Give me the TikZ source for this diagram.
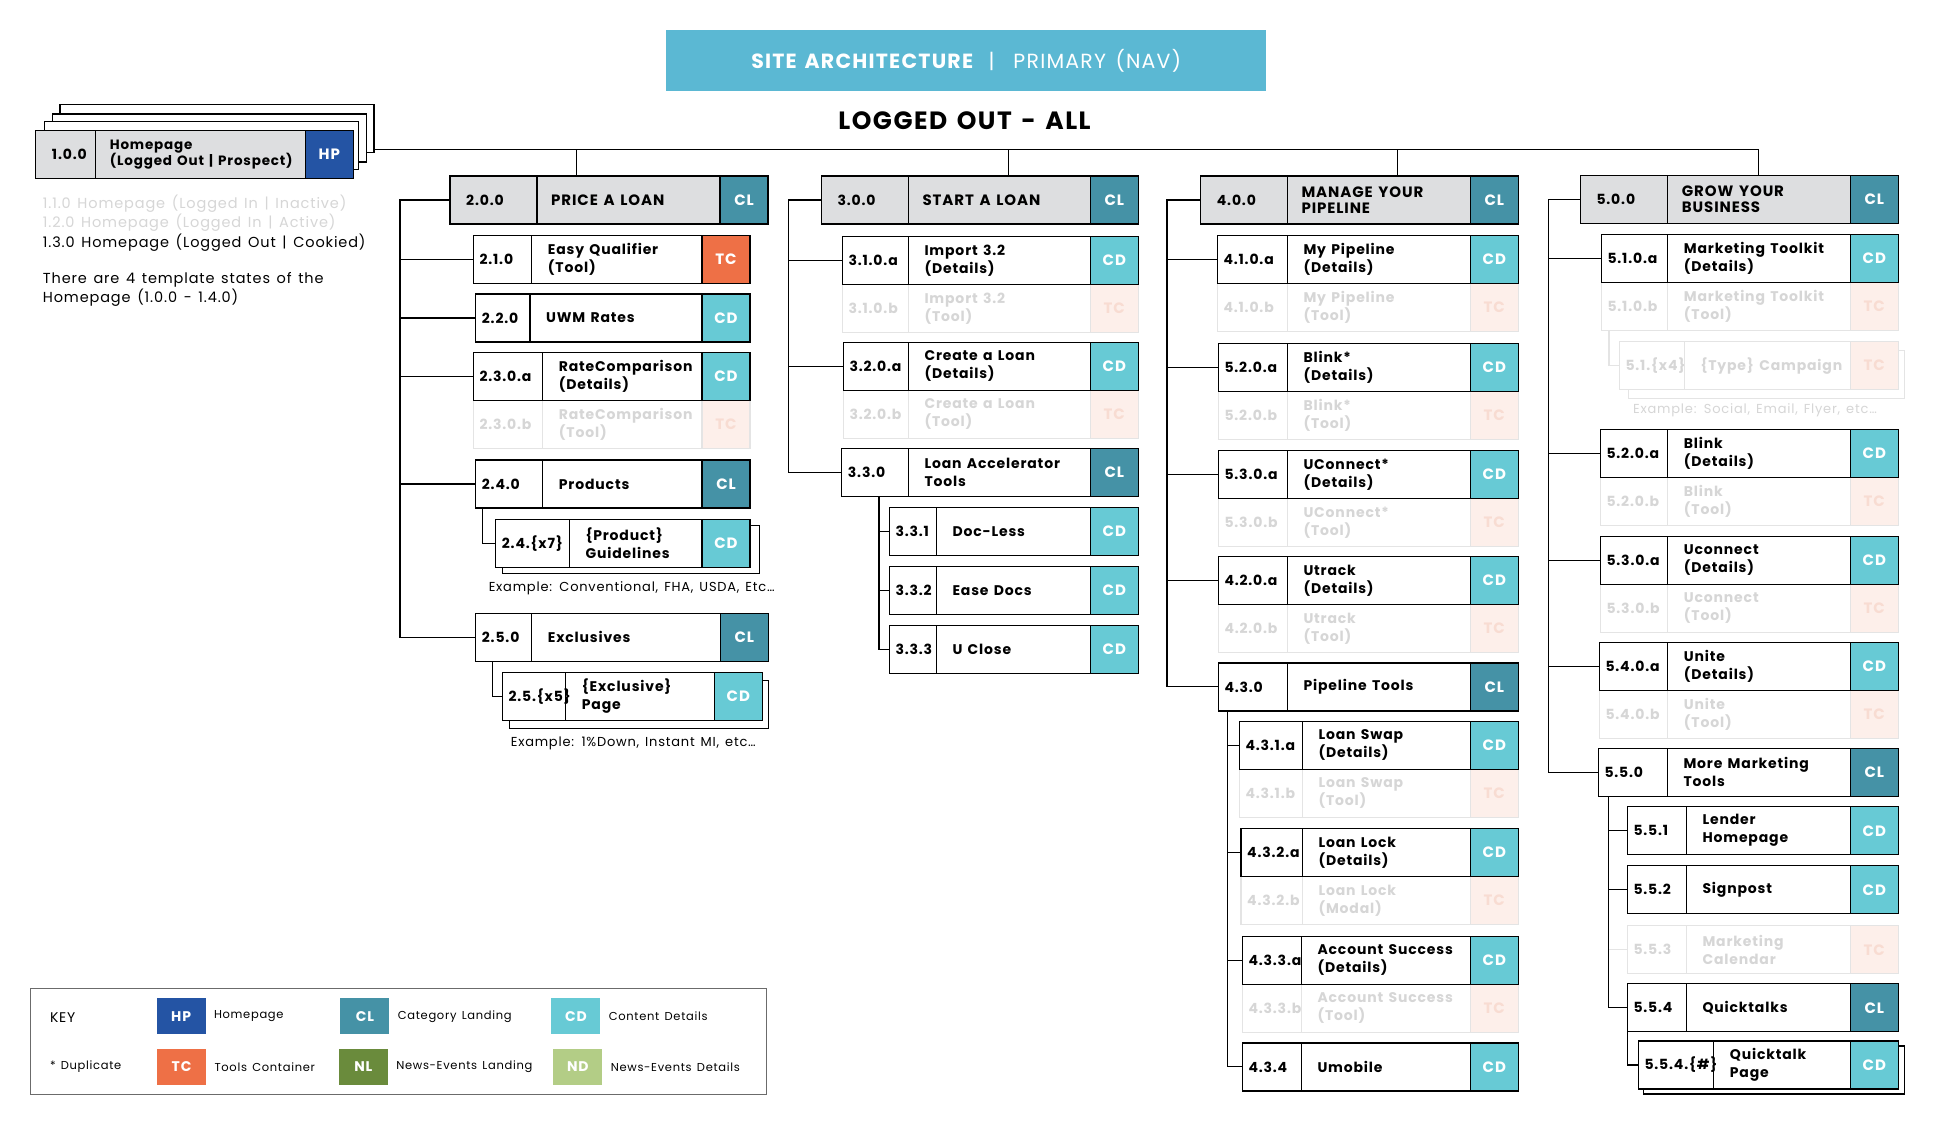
\documentclass[tikz,border=0pt]{standalone}
\usepackage{fontspec}
\setmainfont{Poppins}[LetterSpace=6, WordSpace=1.4]
\usepackage{tikz}
\usetikzlibrary{positioning, calc}

\definecolor{hpblue}{HTML}{2454A4}
\definecolor{clteal}{HTML}{4592A6}
\definecolor{cdcyan}{HTML}{67CAD5}
\definecolor{tcorange}{HTML}{EE7046}
\definecolor{nlgreen}{HTML}{6A8B3C}
\definecolor{ndgreen}{HTML}{B3CD86}
\definecolor{headgray}{HTML}{DDDEE0}
\definecolor{bannerblue}{HTML}{5BB8D3}
\definecolor{ghostline}{HTML}{E4E4E4}
\definecolor{ghosttext}{HTML}{D6D6D6}
\definecolor{ghostfill}{HTML}{FDEFEA}
\definecolor{ghosttc}{HTML}{F8DCD2}
\definecolor{keygray}{HTML}{6B6B6B}

\tikzset{
  pbox/.style={draw=black, line width=1.3pt, fill=white, minimum height=48pt,
               inner sep=0pt, outer sep=0pt},
  hbox/.style={pbox, fill=headgray},
  gbox/.style={pbox, draw=ghostline},
  badge/.style={draw=black, line width=1.3pt, minimum width=48pt, minimum height=48pt,
                inner sep=0pt, outer sep=0pt, text=white,
                font=\fontsize{15}{18}\selectfont\bfseries},
  HP/.style={fill=hpblue}, CL/.style={fill=clteal},
  CD/.style={fill=cdcyan}, TC/.style={fill=tcorange},
  idtext/.style={inner sep=0pt, font=\fontsize{14}{17}\selectfont\bfseries},
  nametext/.style={inner sep=0pt, align=left, font=\fontsize{14}{18}\selectfont\bfseries},
  headtext/.style={inner sep=0pt, align=left, font=\fontsize{15}{16}\selectfont\bfseries},
  n100 text/.style={font=\fontsize{13.5}{16.7}\selectfont\bfseries},
  link/.style={line width=1.1pt, draw=black},
  ghostlink/.style={line width=1.1pt, draw=ghostline},
  note/.style={inner sep=0pt, anchor=west, align=left, font=\fontsize{14.5}{19.3}\selectfont},
  example/.style={inner sep=0pt, font=\fontsize{13}{15}\selectfont},
  keytext/.style={inner sep=0pt, anchor=west, font=\fontsize{11.5}{14}\selectfont},
  keybox/.style={minimum width=49pt, minimum height=36pt, inner sep=0pt, text=white,
                 font=\fontsize{14}{16}\selectfont\bfseries},
}

% box: name, x, y, width, id width, badge, id, label
\newcommand{\pagebox}[8]{%
  \node[pbox, minimum width=#4pt, anchor=north west] (#1) at (#2,#3) {};
  \node[badge, #6, anchor=north east] (#1-tag) at (#1.north east) {#6};
  \draw[line width=1.3pt] ([xshift=#5pt]#1.north west) -- ([xshift=#5pt]#1.south west);
  \node[idtext, anchor=west] (#1-id) at ([xshift=6pt]#1.west) {#7};
  \node[nametext, anchor=west] (#1-name) at ([xshift=#5pt+16pt]#1.west) {#8};
}
\newcommand{\headbox}[8]{%
  \node[hbox, minimum width=#4pt, anchor=north west] (#1) at (#2,#3) {};
  \node[badge, #6, anchor=north east] (#1-tag) at (#1.north east) {#6};
  \draw[line width=1.3pt] ([xshift=#5pt]#1.north west) -- ([xshift=#5pt]#1.south west);
  \node[idtext, anchor=west] (#1-id) at ([xshift=16pt]#1.west) {#7};
  \node[headtext, anchor=west, #1 text/.try] (#1-name) at ([xshift=#5pt+14pt]#1.west) {#8};
}
% faded tool state: name, x, y, width, id width, id, label
\newcommand{\ghostbox}[7]{%
  \node[gbox, minimum width=#4pt, anchor=north west] (#1) at (#2,#3) {};
  \node[badge, draw=ghostline, fill=ghostfill, text=ghosttc, anchor=north east] (#1-tag) at (#1.north east) {TC};
  \draw[line width=1.3pt, ghostline] ([xshift=#5pt]#1.north west) -- ([xshift=#5pt]#1.south west);
  \node[idtext, anchor=west, text=ghosttext] (#1-id) at ([xshift=6pt]#1.west) {#6};
  \node[nametext, anchor=west, text=ghosttext] (#1-name) at ([xshift=#5pt+16pt]#1.west) {#7};
}

\begin{document}
\begin{tikzpicture}[x=1pt, y=-1pt]
  \useasboundingbox (0,0) rectangle (1944,1125);
  \fill[white] (0,0) rectangle (1944,1125);

  % Title
  \node[fill=bannerblue, minimum width=600pt, minimum height=60.7pt, anchor=north west,
        inner sep=0pt, text=white, font=\fontsize{20.5}{24}\selectfont] (banner) at (666,30)
    {\bfseries SITE ARCHITECTURE\ \ \mdseries|\ \ PRIMARY (NAV)};
  \node[font=\fontsize{25}{28}\selectfont\bfseries] (title) at (964.5,121) {LOGGED OUT - ALL};

  % Homepage
  \foreach \i/\x/\y in {3/60/104.3, 2/52.3/114, 1/44.3/121.7}{
    \node[pbox, minimum width=314pt, anchor=north west] (hpstack\i) at (\x,\y) {};
  }
  \headbox{n100}{35.7}{130.7}{317.6}{60}{HP}{1.0.0}{Homepage\\(Logged Out | Prospect)}
  \node[note, text=ghosttext] (note110) at (42.7,204) {1.1.0 Homepage (Logged In | Inactive)};
  \node[note, text=ghosttext] (note120) at (42.7,222.7) {1.2.0 Homepage (Logged In | Active)};
  \node[note] (note130) at (42.7,242.3) {1.3.0 Homepage (Logged Out | Cookied)};
  \node[note] (note140) at (42.7,289.7) {There are 4 template states of the\\Homepage (1.0.0 - 1.4.0)};

  % Price a loan
  \headbox{n200}{450}{176}{318}{87}{CL}{2.0.0}{PRICE A LOAN}
  \pagebox{n210}{473.3}{235.3}{276.7}{58.4}{TC}{2.1.0}{Easy Qualifier\\(Tool)}
  \pagebox{n220}{475.7}{294}{274.3}{54.3}{CD}{2.2.0}{UWM Rates}
  \ghostbox{n230b}{473.3}{400.7}{276.7}{69.4}{2.3.0.b}{RateComparison\\(Tool)}
  \pagebox{n230a}{473.3}{352.7}{276.7}{69.4}{CD}{2.3.0.a}{RateComparison\\(Details)}
  \pagebox{n240}{475.7}{460}{274.3}{67}{CL}{2.4.0}{Products}
  \node[pbox, minimum width=256.6pt, anchor=north west] (n24x-back) at (502.7,525.3) {};
  \pagebox{n24x}{495.7}{519.3}{254.3}{73.6}{CD}{2.4.\{x7\}}{\{Product\}\\Guidelines}
  \node[example] (ex24) at (631.7,588.3) {Example: Conventional, FHA, USDA, Etc\dots};
  \pagebox{n250}{475.7}{613.3}{292.6}{56}{CL}{2.5.0}{Exclusives}
  \node[pbox, minimum width=259pt, anchor=north west] (n25x-back) at (509.3,680.3) {};
  \pagebox{n25x}{502.3}{672.3}{260}{63.4}{CD}{2.5.\{x5\}}{\{Exclusive\}\\Page}
  \node[example] (ex25) at (633.3,743.3) {Example: 1\%Down, Instant MI, etc\dots};

  % Start a loan
  \headbox{n300}{821.3}{176}{317}{87}{CL}{3.0.0}{START A LOAN}
  \ghostbox{n310b}{842.3}{284.7}{296}{66}{3.1.0.b}{Import 3.2\\(Tool)}
  \pagebox{n310a}{842.3}{236.7}{296}{66}{CD}{3.1.0.a}{Import 3.2\\(Details)}
  \ghostbox{n320b}{843.3}{390.3}{295}{65}{3.2.0.b}{Create a Loan\\(Tool)}
  \pagebox{n320a}{843.3}{342.3}{295}{65}{CD}{3.2.0.a}{Create a Loan\\(Details)}
  \pagebox{n330}{841.7}{448.3}{296.6}{66.6}{CL}{3.3.0}{Loan Accelerator\\Tools}
  \pagebox{n331}{889.3}{507.7}{249}{47}{CD}{3.3.1}{Doc-Less}
  \pagebox{n332}{889.3}{566.7}{249}{47}{CD}{3.3.2}{Ease Docs}
  \pagebox{n333}{889.3}{625.7}{249}{47}{CD}{3.3.3}{U Close}

  % Manage your pipeline
  \headbox{n400}{1200.7}{176}{317.6}{86.6}{CL}{4.0.0}{MANAGE YOUR\\PIPELINE}
  \ghostbox{n410b}{1217.3}{283.7}{301}{70}{4.1.0.b}{My Pipeline\\(Tool)}
  \pagebox{n410a}{1217.3}{235.7}{301}{70}{CD}{4.1.0.a}{My Pipeline\\(Details)}
  \ghostbox{n4520b}{1218.3}{391.3}{300}{69}{5.2.0.b}{Blink*\\(Tool)}
  \pagebox{n4520a}{1218.3}{343.3}{300}{69}{CD}{5.2.0.a}{Blink*\\(Details)}
  \ghostbox{n4530b}{1218.3}{498.3}{300}{69}{5.3.0.b}{UConnect*\\(Tool)}
  \pagebox{n4530a}{1218.3}{450.3}{300}{69}{CD}{5.3.0.a}{UConnect*\\(Details)}
  \ghostbox{n420b}{1218.3}{604.4}{300}{69}{4.2.0.b}{Utrack\\(Tool)}
  \pagebox{n420a}{1218.3}{556.4}{300}{69}{CD}{4.2.0.a}{Utrack\\(Details)}
  \pagebox{n430}{1218.3}{662.9}{300}{69}{CL}{4.3.0}{Pipeline Tools}
  \ghostbox{n431b}{1239.3}{769.4}{279}{63}{4.3.1.b}{Loan Swap\\(Tool)}
  \pagebox{n431a}{1239.3}{721.4}{279}{63}{CD}{4.3.1.a}{Loan Swap\\(Details)}
  \ghostbox{n432b}{1241}{876.6}{277.3}{61.3}{4.3.2.b}{Loan Lock\\(Modal)}
  \pagebox{n432a}{1241}{828.6}{277.3}{61.3}{CD}{4.3.2.a}{Loan Lock\\(Details)}
  \ghostbox{n433b}{1242.3}{984.4}{276}{59}{4.3.3.b}{Account Success\\(Tool)}
  \pagebox{n433a}{1242.3}{936.4}{276}{59}{CD}{4.3.3.a}{Account Success\\(Details)}
  \pagebox{n434}{1242.3}{1042.9}{276}{59}{CD}{4.3.4}{Umobile}

  % Grow your business
  \headbox{n500}{1580.3}{175.7}{318}{87.4}{CL}{5.0.0}{GROW YOUR\\BUSINESS}
  \ghostbox{n510b}{1601.3}{282.3}{297}{66.4}{5.1.0.b}{Marketing Toolkit\\(Tool)}
  \pagebox{n510a}{1601.3}{234.3}{297}{66.4}{CD}{5.1.0.a}{Marketing Toolkit\\(Details)}
  \node[gbox, minimum width=276pt, anchor=north west] (n51x-back) at (1628.3,350.7) {};
  \ghostbox{n51x}{1619.3}{341.7}{279}{65}{5.1.\{x4\}}{\{Type\} Campaign}
  \node[example, text=ghosttext] (ex51) at (1755,410.7) {Example: Social, Email, Flyer, etc\dots};
  \ghostbox{n520b}{1600.3}{477.3}{298}{67.4}{5.2.0.b}{Blink\\(Tool)}
  \pagebox{n520a}{1600.3}{429.3}{298}{67.4}{CD}{5.2.0.a}{Blink\\(Details)}
  \ghostbox{n530b}{1600.3}{584.3}{298}{67.4}{5.3.0.b}{Uconnect\\(Tool)}
  \pagebox{n530a}{1600.3}{536.3}{298}{67.4}{CD}{5.3.0.a}{Uconnect\\(Details)}
  \ghostbox{n540b}{1599.3}{690.3}{299}{68.4}{5.4.0.b}{Unite\\(Tool)}
  \pagebox{n540a}{1599.3}{642.3}{299}{68.4}{CD}{5.4.0.a}{Unite\\(Details)}
  \pagebox{n550}{1598.3}{748.3}{300}{69}{CL}{5.5.0}{More Marketing\\Tools}
  \pagebox{n551}{1627.3}{806.7}{271}{59}{CD}{5.5.1}{Lender\\Homepage}
  \pagebox{n552}{1627.3}{865.7}{271}{59}{CD}{5.5.2}{Signpost}
  \ghostbox{n553}{1627.3}{925.7}{271}{59}{5.5.3}{Marketing\\Calendar}
  \pagebox{n554}{1627.3}{983.7}{271}{59}{CL}{5.5.4}{Quicktalks}
  \node[pbox, minimum width=261pt, anchor=north west] (n554x-back) at (1643.3,1046) {};
  \pagebox{n554x}{1638.3}{1041}{260}{75.4}{CD}{5.5.4.\{\#\}}{Quicktalk\\Page}

  % Bus and drops
  \coordinate (bus) at (1758.3,149.5);
  \coordinate (drop2) at (576.7,149.5);
  \coordinate (drop3) at (1008.3,149.5);
  \coordinate (drop4) at (1397.7,149.5);
  \draw[link] (hpstack3.east |- bus) -- (bus) -- (n500.north -| bus);
  \draw[link] (drop2) -- (n200.north -| drop2);
  \draw[link] (drop3) -- (n300.north -| drop3);
  \draw[link] (drop4) -- (n400.north -| drop4);

  % Trunks
  \coordinate (trunk2) at (400,0);
  \coordinate (trunk3) at (788.3,0);
  \coordinate (trunk4) at (1167,0);
  \coordinate (trunk5) at (1548.3,0);
  \draw[link] (n200.west) -| (trunk2 |- n250.west) -- (n250.west);
  \foreach \n in {n210,n220,n230a,n240}
    \draw[link] (trunk2 |- \n.west) -- (\n.west);
  \draw[link] (n300.west) -| (trunk3 |- n330.west) -- (n330.west);
  \foreach \n in {n310a,n320a}
    \draw[link] (trunk3 |- \n.west) -- (\n.west);
  \draw[link] (n400.west) -| (trunk4 |- n430.west) -- (n430.west);
  \foreach \n in {n410a,n4520a,n4530a,n420a}
    \draw[link] (trunk4 |- \n.west) -- (\n.west);
  \draw[link] (n500.west) -| (trunk5 |- n550.west) -- (n550.west);
  \foreach \n in {n510a,n520a,n530a,n540a}
    \draw[link] (trunk5 |- \n.west) -- (\n.west);

  % Sub branches
  \draw[link] ([xshift=6.6pt]n240.south west) |- (n24x.west);
  \draw[link] ([xshift=16.6pt]n250.south west) |- (n25x.west);
  \coordinate (sub33) at ([xshift=37.3pt]n330.south west);
  \draw[link] (sub33) |- (n333.west);
  \foreach \n in {n331,n332}
    \draw[link] (sub33 |- \n.west) -- (\n.west);
  \coordinate (sub43) at ([xshift=9pt]n430.south west);
  \draw[link] (sub43) |- (n434.west);
  \foreach \n in {n431a,n432a,n433a}
    \draw[link] (sub43 |- \n.west) -- (\n.west);
  \draw[ghostlink] ([xshift=7.7pt]n510b.south west) |- (n51x.west);
  \coordinate (sub55) at ([xshift=10pt]n550.south west);
  \draw[ghostlink] (sub55 |- n553.west) -- (n553.west);
  \draw[link] (sub55) |- (n554.west);
  \foreach \n in {n551,n552}
    \draw[link] (sub55 |- \n.west) -- (\n.west);
  \draw[link] (n554.south west) |- (n554x.west);

  % Key
  \node[draw=keygray, line width=1pt, minimum width=736.3pt, minimum height=106pt,
        anchor=north west, inner sep=0pt] (keyframe) at (29.9,988.3) {};
  \node[keytext, font=\fontsize{14}{16}\selectfont] (key-title) at (49.8,1017.3) {KEY};
  \node[keytext] (key-dup) at (49.8,1067) {* Duplicate};
  \foreach \tag/\col/\x/\y/\txt in {HP/hpblue/181.1/1016.3/Homepage,
      CL/clteal/364.9/1016.3/Category Landing,
      CD/cdcyan/575.9/1016.3/Content Details,
      TC/tcorange/181.6/1066.7/Tools Container,
      NL/nlgreen/363.4/1066.7/News-Events Landing,
      ND/ndgreen/577.9/1066.7/News-Events Details}{
    \node[keybox, fill=\col] (key-\tag) at (\x,\y) {\tag};
    \node[keytext, right=8pt of key-\tag] (keylabel-\tag) {\txt};
  }
\end{tikzpicture}
\end{document}
